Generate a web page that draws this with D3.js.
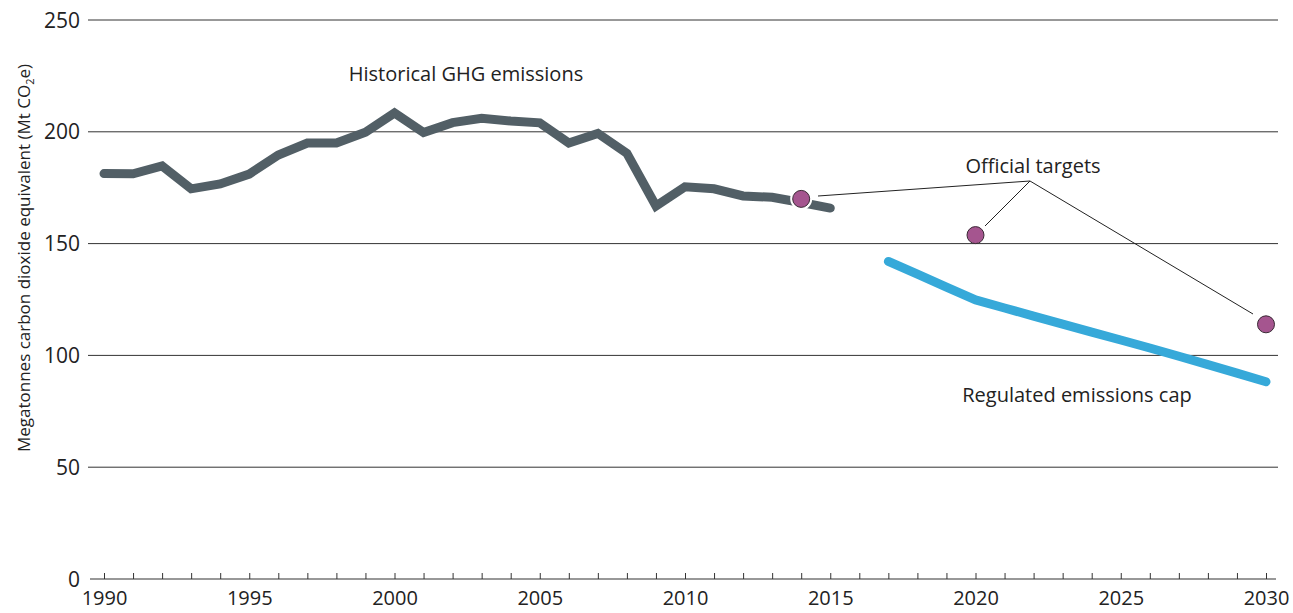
<!DOCTYPE html>
<html>
<head>
<meta charset="utf-8">
<script src="https://cdn.jsdelivr.net/npm/d3@7"></script>
<style>
  body { margin: 0; background: #fff; }
  svg { display: block; font-family: "Open Sans", "Noto Sans", sans-serif; }
</style>
</head>
<body>
<div id="chart"></div>
<script>
const width = 1293;
const height = 613;

// historical GHG emissions, Mt CO2e
const histYears = [1990, 1991, 1992, 1993, 1994, 1995, 1996, 1997, 1998, 1999,
  2000, 2001, 2002, 2003, 2004, 2005, 2006, 2007, 2008, 2009,
  2010, 2011, 2012, 2013, 2014, 2015];
const histValues = [181.3, 181.2, 184.7, 174.5, 176.7, 181.1, 189.6, 195, 195, 199.8,
  208.4, 199.7, 204.1, 206, 204.8, 204, 195, 199.3, 190.4, 166.8,
  175.4, 174.5, 171.3, 170.7, 168.4, 165.9];

// regulated emissions cap
const capYears = [2017, 2018, 2019, 2020, 2021, 2022, 2023, 2024, 2025, 2026, 2027, 2028, 2029, 2030];
const capValues = [142, 136.3, 130.5, 124.8, 121.2, 117.6, 114, 110.4, 106.9, 103.3, 99.6, 95.9, 92.1, 88.2];

// official targets
const targetYears = [2014, 2020, 2030];
const targetValues = [170, 153.8, 113.9];

const yTicks = [0, 50, 100, 150, 200, 250];
const xTickLabels = [1990, 1995, 2000, 2005, 2010, 2015, 2020, 2025, 2030];

const svg = d3.select("#chart").append("svg")
  .attr("width", width)
  .attr("height", height);

const x = d3.scaleLinear().domain([1990, 2030]).range([104, 1266]);
const y = d3.scaleLinear().domain([0, 250]).range([579, 20]);

// grid lines
svg.append("g")
  .selectAll("line")
  .data(yTicks.filter((d) => d > 0))
  .join("line")
  .attr("x1", 88)
  .attr("x2", 1278)
  .attr("y1", (d) => y(d))
  .attr("y2", (d) => y(d))
  .attr("stroke", "#333")
  .attr("stroke-width", 1);

// y tick labels
svg.append("g")
  .selectAll("text")
  .data(yTicks)
  .join("text")
  .attr("x", 80)
  .attr("y", (d) => y(d))
  .attr("dy", "0.36em")
  .attr("text-anchor", "end")
  .attr("font-size", 21)
  .attr("fill", "#222")
  .text((d) => d);

// x axis
const xAxis = d3.axisBottom(x)
  .tickValues(d3.range(1990, 2031))
  .tickSize(-6)
  .tickSizeOuter(0)
  .tickFormat((d) => (xTickLabels.includes(d) ? d : ""));

const gx = svg.append("g")
  .attr("transform", `translate(0, ${y(0)})`)
  .call(xAxis);
gx.select(".domain").remove();
gx.append("line")
  .attr("x1", 90).attr("x2", 1276)
  .attr("stroke", "#333").attr("stroke-width", 1.2);
gx.selectAll(".tick line").attr("stroke", "#333");
gx.selectAll(".tick text")
  .attr("y", 12)
  .attr("dy", "0.71em")
  .attr("fill", "#222")
  .attr("font-size", 20)
  .attr("font-family", "'Open Sans', 'Noto Sans', sans-serif");

// y axis title
svg.append("text")
  .attr("transform", `translate(30, ${258}) rotate(-90)`)
  .attr("text-anchor", "middle")
  .attr("font-size", 17)
  .attr("fill", "#222")
  .html("Megatonnes carbon dioxide equivalent (Mt CO<tspan font-size='11' dy='4'>2</tspan><tspan dy='-4'>e)</tspan>");

const line = d3.line()
  .x((d) => x(d[0]))
  .y((d) => y(d[1]));

svg.append("path")
  .datum(d3.zip(histYears, histValues))
  .attr("d", line)
  .attr("fill", "none")
  .attr("stroke", "#525f66")
  .attr("stroke-width", 9)
  .attr("stroke-linecap", "round")
  .attr("stroke-linejoin", "miter");

svg.append("path")
  .datum(d3.zip(capYears, capValues))
  .attr("d", line)
  .attr("fill", "none")
  .attr("stroke", "#36a9d9")
  .attr("stroke-width", 9)
  .attr("stroke-linecap", "round")
  .attr("stroke-linejoin", "round");

// annotation leader lines
const hub = [1030, 181];
const leaderEnds = [[818, 196], [985, 226], [1253, 314]];
svg.append("g")
  .selectAll("line")
  .data(leaderEnds)
  .join("line")
  .attr("x1", hub[0]).attr("y1", hub[1])
  .attr("x2", (d) => d[0]).attr("y2", (d) => d[1])
  .attr("stroke", "#222")
  .attr("stroke-width", 1);

// white halo behind the dot sitting on the line
svg.append("circle")
  .attr("cx", x(targetYears[0]))
  .attr("cy", y(targetValues[0]))
  .attr("r", 11)
  .attr("fill", "#fff");

// targets
svg.append("g")
  .selectAll("circle")
  .data(d3.zip(targetYears, targetValues))
  .join("circle")
  .attr("cx", (d) => x(d[0]))
  .attr("cy", (d) => y(d[1]))
  .attr("r", 8.5)
  .attr("fill", "#a5558f")
  .attr("stroke", "#3a2a35")
  .attr("stroke-width", 1);

// labels
const labels = [
  { text: "Historical GHG emissions", x: 466, y: 74 },
  { text: "Official targets", x: 1033, y: 166 },
  { text: "Regulated emissions cap", x: 1077, y: 395 }
];
svg.append("g")
  .selectAll("text")
  .data(labels)
  .join("text")
  .attr("x", (d) => d.x)
  .attr("y", (d) => d.y)
  .attr("dy", "0.35em")
  .attr("text-anchor", "middle")
  .attr("font-size", 20)
  .attr("fill", "#222")
  .text((d) => d.text);
</script>
</body>
</html>
